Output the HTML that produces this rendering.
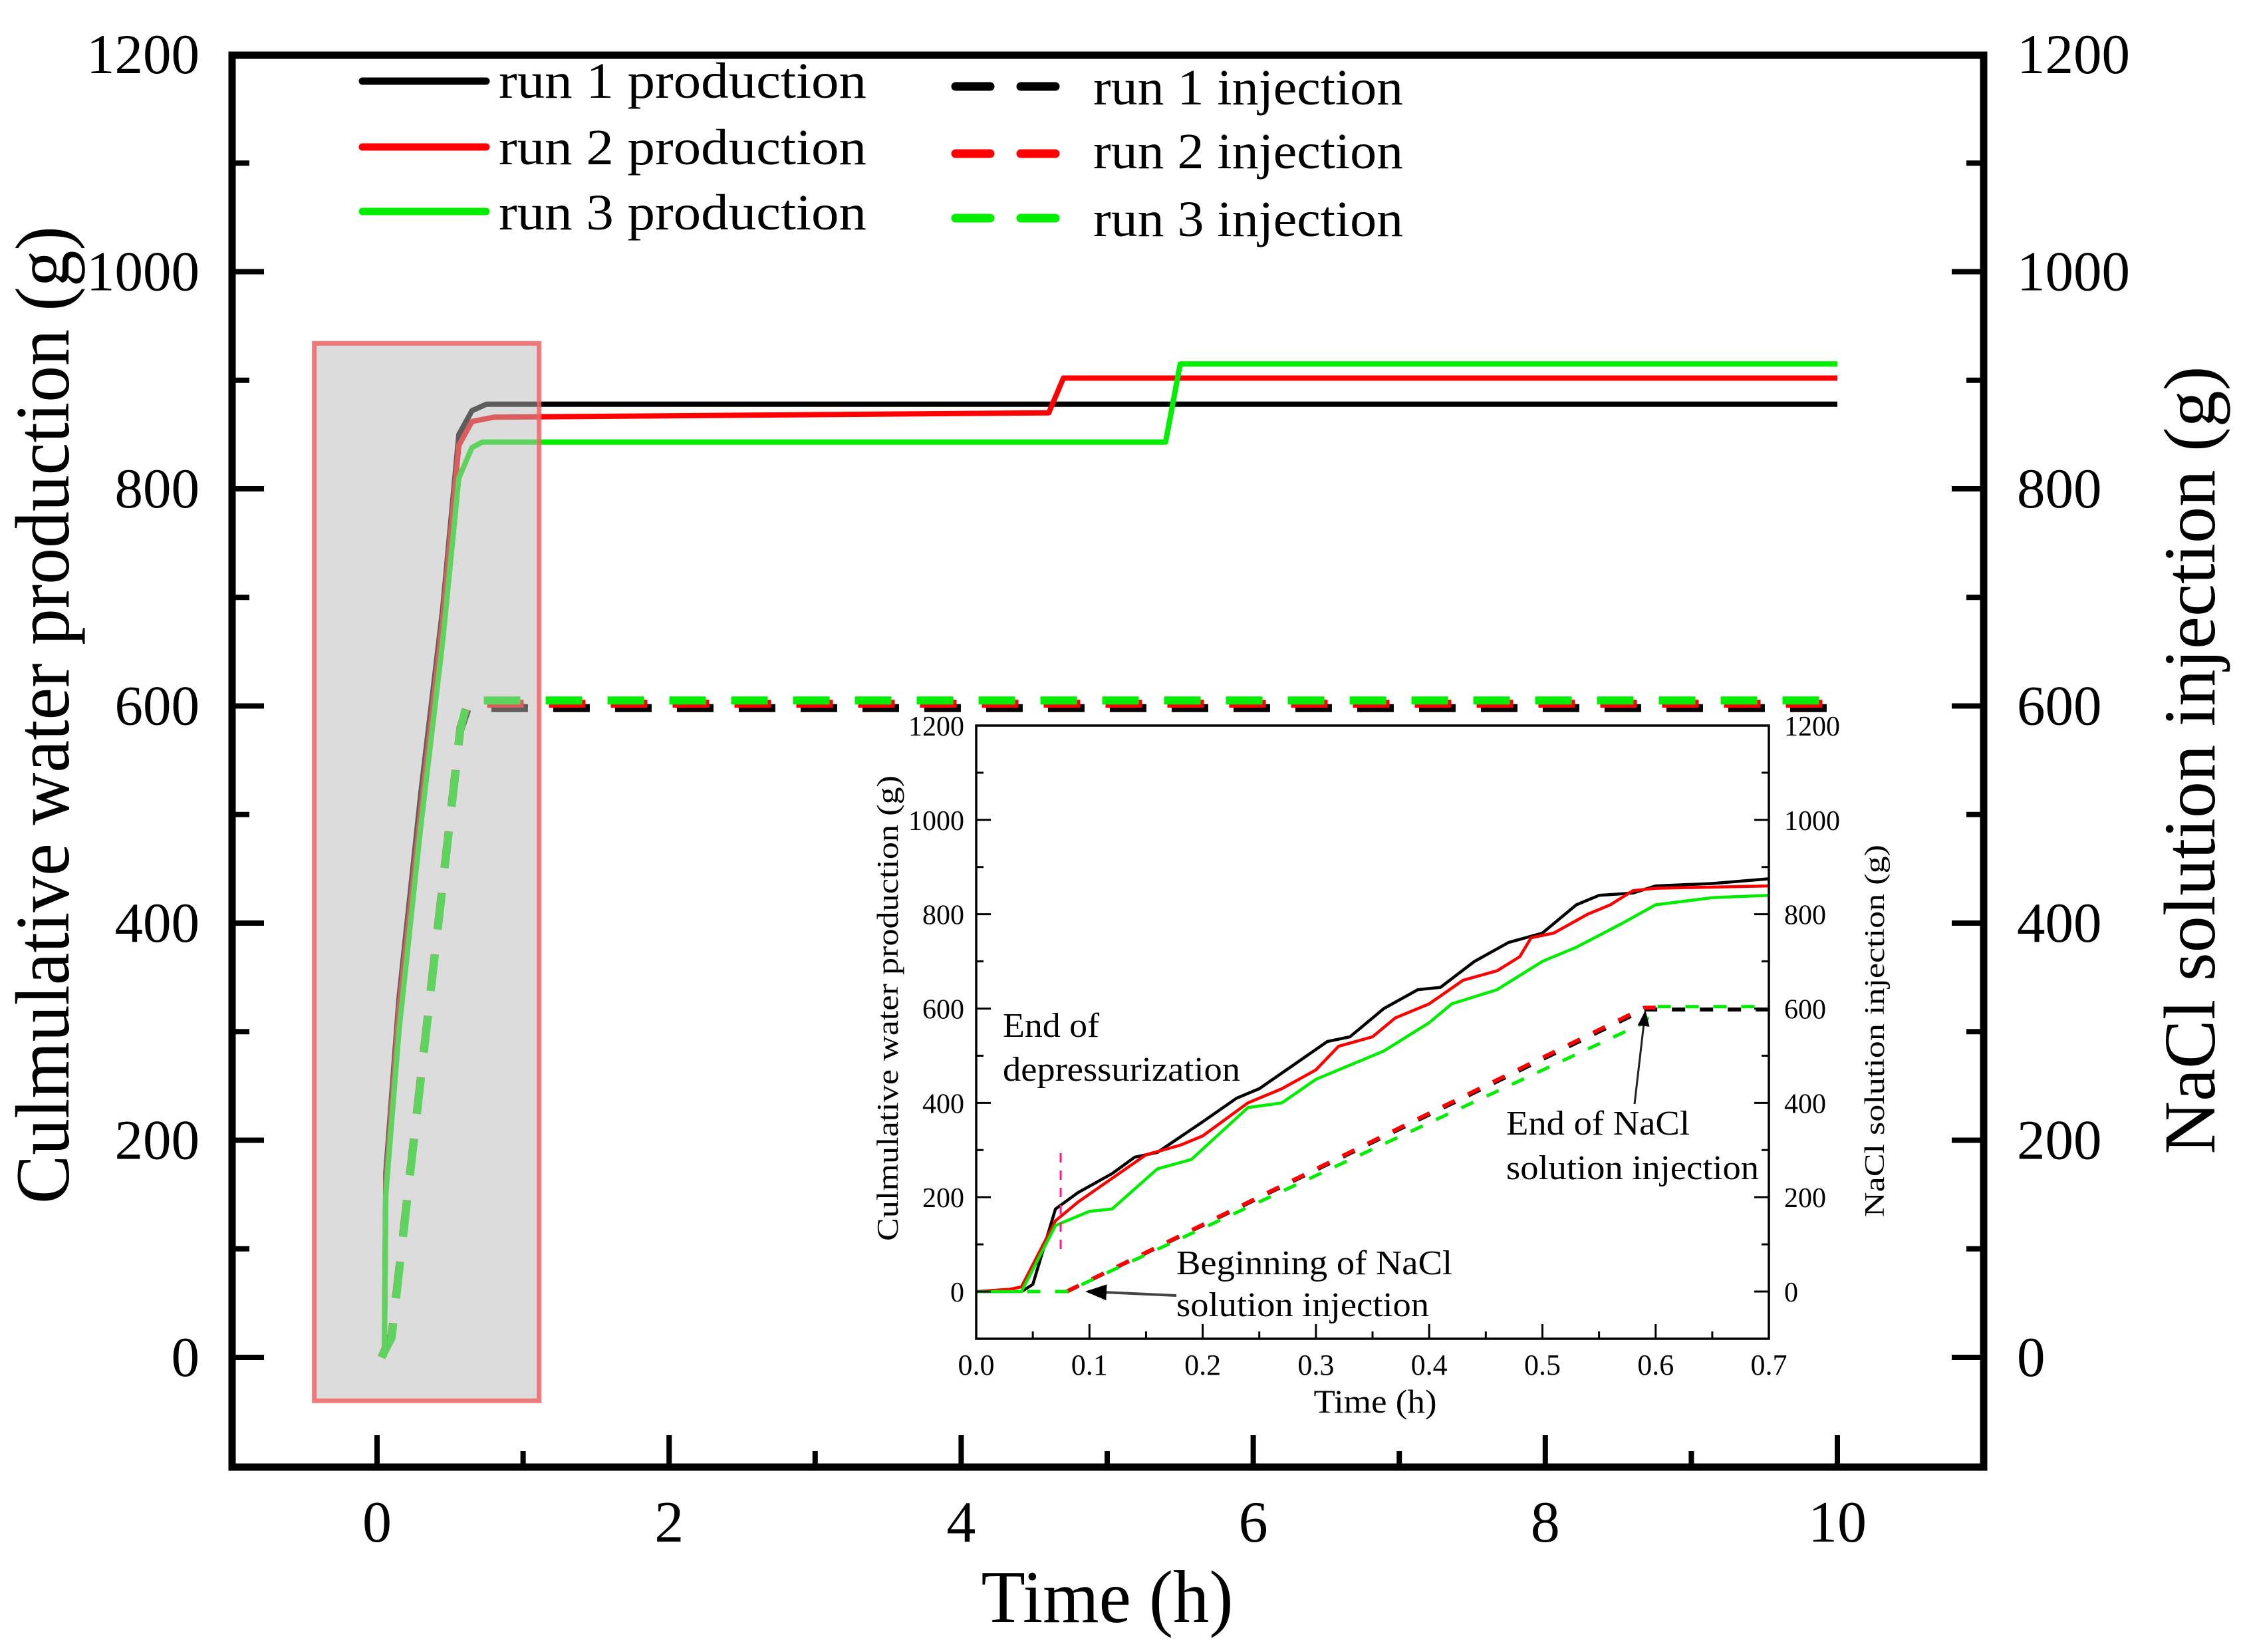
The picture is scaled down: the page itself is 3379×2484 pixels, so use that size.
<!DOCTYPE html>
<html><head><meta charset="utf-8"><style>
html,body{margin:0;padding:0;background:#fff;}
svg{display:block;}
text{font-family:"Liberation Serif",serif;fill:#000;}
</style></head><body>
<svg id="chart" width="3379" height="2484" viewBox="0 0 3379 2484" xmlns="http://www.w3.org/2000/svg">
<g id="main"></g>
<g id="inset"></g>
</svg>
<script>
// ---- main chart data ----
const mainXTicks = [0, 2, 4, 6, 8, 10];
const mainYTicks = [0, 200, 400, 600, 800, 1000, 1200];
const prod1 = [[0.05,0],[0.06,170],[0.15,330],[0.3,520],[0.45,690],[0.56,850],[0.65,872],[0.75,878],[10,878]];
const prod2 = [[0.05,0],[0.06,160],[0.15,320],[0.3,505],[0.45,680],[0.56,840],[0.65,862],[0.8,866],[4.6,870],[4.7,902],[10,902]];
const prod3 = [[0.05,0],[0.06,150],[0.15,300],[0.3,490],[0.45,660],[0.56,810],[0.65,838],[0.72,843],[5.4,843],[5.5,915],[10,915]];
const inj1 = [[0.03,0],[0.1,20],[0.57,578],[0.62,598],[10,598]];
const inj2 = [[0.03,0],[0.1,20],[0.57,580],[0.62,602],[10,602]];
const inj3 = [[0.03,0],[0.1,18],[0.57,578],[0.62,605],[10,605]];
// ---- inset data ----
const insetXTicks = [0,0.1,0.2,0.3,0.4,0.5,0.6,0.7];
const insetYTicks = [0,200,400,600,800,1000,1200];
const iprod1 = [[0,0],[0.04,0],[0.05,15],[0.07,175],[0.09,210],[0.12,250],[0.14,285],[0.16,295],[0.2,360],[0.23,410],[0.25,430],[0.28,480],[0.31,530],[0.33,540],[0.36,600],[0.39,640],[0.41,645],[0.44,700],[0.47,740],[0.5,760],[0.53,820],[0.55,840],[0.58,845],[0.6,860],[0.65,865],[0.7,875]];
const iprod2 = [[0,0],[0.03,5],[0.04,10],[0.07,150],[0.09,190],[0.12,240],[0.15,290],[0.18,310],[0.2,330],[0.24,400],[0.27,430],[0.3,470],[0.32,520],[0.35,540],[0.37,580],[0.4,610],[0.43,660],[0.46,680],[0.48,710],[0.49,750],[0.51,760],[0.54,800],[0.56,820],[0.58,850],[0.6,855],[0.7,860]];
const iprod3 = [[0,0],[0.04,0],[0.07,140],[0.1,170],[0.12,175],[0.16,260],[0.19,280],[0.24,390],[0.27,400],[0.3,450],[0.33,480],[0.36,510],[0.4,570],[0.42,610],[0.46,640],[0.5,700],[0.53,730],[0.57,780],[0.6,820],[0.65,835],[0.7,840]];
const iinj1 = [[0.08,0],[0.59,598],[0.7,598]];
const iinj2 = [[0.08,0],[0.59,602],[0.6,602]];
const iinj3 = [[0.045,0],[0.08,0],[0.59,590],[0.6,604],[0.7,604]];

const NS = "http://www.w3.org/2000/svg";
function mk(parent, tag, attrs, txt){
  const e = document.createElementNS(NS, tag);
  for (const k in attrs) e.setAttribute(k, attrs[k]);
  if (txt !== undefined) e.textContent = txt;
  parent.appendChild(e);
  return e;
}
// main scales
const mx = t => 567 + t*219.6;
const my = v => 2041 - v*1.6325;
// inset scales
const ix = t => 1468 + t*1702.9;
const iy = v => 1942 - v*0.7092;

const main = document.getElementById('main');
const inset = document.getElementById('inset');

function pts(arr, fx, fy){ return arr.map(p => fx(p[0]).toFixed(1)+','+fy(p[1]).toFixed(1)).join(' '); }

// main series
function mainLine(arr, color, dashed, name){
  const l = mk(main, 'polyline', {points: pts(arr, mx, my), fill:'none', stroke:color, 'stroke-width': dashed?12:8, 'stroke-linejoin':'round', 'stroke-dasharray': dashed?'55,38':'none'});
  
  
}
mainLine(inj1, '#000', true, 'run1-injection-line');
mainLine(inj2, '#ff0000', true, 'run2-injection-line');
mainLine(inj3, '#00ee00', true, 'run3-injection-line');
mainLine(prod1, '#000', false, 'run1-production-line');
mainLine(prod2, '#ff0000', false, 'run2-production-line');
mainLine(prod3, '#00ee00', false, 'run3-production-line');

// highlight box (semi-transparent overlay)
const hb = mk(main, 'rect', {x: mx(-0.43), y: my(934), width: mx(1.11)-mx(-0.43), height: my(-40)-my(934), fill:'rgba(185,185,185,0.5)', stroke:'rgba(240,100,100,0.85)', 'stroke-width':7});



// main frame
const fr = mk(main, 'rect', {x:349, y:83, width:2634, height:2123, fill:'none', stroke:'#000', 'stroke-width':11});



// main y ticks
for (let v = -100; v <= 1200; v += 100) {
  const major = v % 200 === 0;
  const len = major ? 48 : 26;
  const y = my(v);
  if (v === -100 || v === 1200) continue;
  const t1 = mk(main, 'line', {x1:349, x2:349+len, y1:y, y2:y, stroke:'#000', 'stroke-width':8});
  
  
  const t2 = mk(main, 'line', {x1:2983, x2:2983-len, y1:y, y2:y, stroke:'#000', 'stroke-width':8});
  
  
}
mainYTicks.forEach(v => {
  const a = mk(main, 'text', {x:300, y:my(v)+28, 'text-anchor':'end', 'font-size':85}, String(v));
  
  
  const b = mk(main, 'text', {x:3033, y:my(v)+28, 'text-anchor':'start', 'font-size':85}, String(v));
  
  
});
// main x ticks
for (let t = 0; t <= 10; t += 1) {
  const major = t % 2 === 0;
  const x = mx(t);
  const tk = mk(main, 'line', {x1:x, x2:x, y1:2206, y2:2206-(major?48:24), stroke:'#000', 'stroke-width':8});
  
  
}
mainXTicks.forEach(t => {
  const l = mk(main, 'text', {x:mx(t), y:2318, 'text-anchor':'middle', 'font-size':88}, String(t));
  
  
});
// axis titles
let at = mk(main, 'text', {x:1665, y:2439, 'text-anchor':'middle', 'font-size':112, textLength:379, lengthAdjust:'spacingAndGlyphs'}, 'Time (h)');


at = mk(main, 'text', {x:0, y:0, 'text-anchor':'middle', 'font-size':116, textLength:1470, lengthAdjust:'spacingAndGlyphs', transform:'translate(103,1075) rotate(-90)'}, 'Culmulative water production (g)');


at = mk(main, 'text', {x:0, y:0, 'text-anchor':'middle', 'font-size':110, textLength:1185, lengthAdjust:'spacingAndGlyphs', transform:'translate(3330,1143) rotate(-90)'}, 'NaCl solution injection (g)');



// legend
const legProd = [['#000','run 1  production',122,147],['#ff0000','run 2  production',221,247],['#00ee00','run 3  production',318,345]];
legProd.forEach((r,i) => {
  const ln = mk(main, 'line', {x1:545, x2:731, y1:r[2], y2:r[2], stroke:r[0], 'stroke-width':11, 'stroke-linecap':'round'});
  
  
  const tx = mk(main, 'text', {x:750, y:r[3], 'font-size':76, textLength:553, lengthAdjust:'spacingAndGlyphs'}, r[1]);
  
  
});
const legInj = [['#000','run 1 injection',130,157],['#ff0000','run 2 injection',231,253],['#00ee00','run 3 injection',328,355]];
legInj.forEach(r => {
  const ln = mk(main, 'line', {x1:1437, x2:1590, y1:r[2], y2:r[2], stroke:r[0], 'stroke-width':13, 'stroke-dasharray':'52,46', 'stroke-linecap':'round'});
  
  
  const tx = mk(main, 'text', {x:1644, y:r[3], 'font-size':76, textLength:466, lengthAdjust:'spacingAndGlyphs'}, r[1]);
  
  
});

// ---- inset ----
const ibg = mk(inset, 'rect', {x:1468, y:1091, width:1192, height:922, fill:'#fff', stroke:'none'});


function insetLine(arr, color, dashed, name, w){
  const l = mk(inset, 'polyline', {points: pts(arr, ix, iy), fill:'none', stroke:color, 'stroke-width': w, 'stroke-linejoin':'round', 'stroke-dasharray': dashed?'20,22':'none'});
  
  
}
insetLine(iinj1, '#000', true, 'inset-run1-injection', 6);
insetLine(iinj2, '#ff0000', true, 'inset-run2-injection', 6);
insetLine(iinj3.map(p=>[p[0], p[1]>0&&p[1]<600 ? p[1]-20 : p[1]]), '#00ee00', true, 'inset-run3-injection', 5);
insetLine(iprod1, '#000', false, 'inset-run1-production', 4.5);
insetLine(iprod2, '#ff0000', false, 'inset-run2-production', 4.5);
insetLine(iprod3, '#00ee00', false, 'inset-run3-production', 4.5);
const mg = mk(inset, 'line', {x1:ix(0.0746), x2:ix(0.0746), y1:1734, y2:1888, stroke:'#ff1493', 'stroke-width':3, 'stroke-dasharray':'14,12'});


const ifr = mk(inset, 'rect', {x:1468, y:1091, width:1192, height:922, fill:'none', stroke:'#000', 'stroke-width':3.5});


for (let v = 0; v <= 1100; v += 100) {
  const len = v % 200 === 0 ? 22 : 11;
  const a = mk(inset, 'line', {x1:1468, x2:1468+len, y1:iy(v), y2:iy(v), stroke:'#000', 'stroke-width':3});
  
  
  const b = mk(inset, 'line', {x1:2660, x2:2660-len, y1:iy(v), y2:iy(v), stroke:'#000', 'stroke-width':3});
  
  
}
for (let k = 1; k < 14; k++) {
  const t = k*0.05;
  const len = k % 2 === 0 ? 22 : 11;
  const a = mk(inset, 'line', {x1:ix(t), x2:ix(t), y1:2013, y2:2013-len, stroke:'#000', 'stroke-width':3});
  
  
}
insetYTicks.forEach(v => {
  const a = mk(inset, 'text', {x:1450, y:iy(v)+15, 'text-anchor':'end', 'font-size':42}, String(v));
  
  
  const b = mk(inset, 'text', {x:2683, y:iy(v)+15, 'text-anchor':'start', 'font-size':42}, String(v));
  
  
});
insetXTicks.forEach(t => {
  const a = mk(inset, 'text', {x:ix(t), y:2067, 'text-anchor':'middle', 'font-size':44}, t.toFixed(1));
  
  
});
let it = mk(inset, 'text', {x:2068, y:2124, 'text-anchor':'middle', 'font-size':50, textLength:185, lengthAdjust:'spacingAndGlyphs'}, 'Time (h)');


it = mk(inset, 'text', {x:0, y:0, 'text-anchor':'middle', 'font-size':46, textLength:700, lengthAdjust:'spacingAndGlyphs', transform:'translate(1350,1516) rotate(-90)'}, 'Culmulative water production (g)');


it = mk(inset, 'text', {x:0, y:0, 'text-anchor':'middle', 'font-size':42, textLength:560, lengthAdjust:'spacingAndGlyphs', transform:'translate(2833,1550) rotate(-90)'}, 'NaCl solution injection (g)');



// annotations
const ann = [[1508,1559,'End of',145],[1508,1625,'depressurization',357],[2265,1706,'End of NaCl',276],[2265,1773,'solution injection',380],[1769,1916,'Beginning of NaCl',415],[1769,1979,'solution injection',380]];
ann.forEach(a => {
  const e = mk(inset, 'text', {x:a[0], y:a[1], 'font-size':52, textLength:a[3], lengthAdjust:'spacingAndGlyphs'}, a[2]);
  
  
});
const defs = mk(document.getElementById('chart'), 'defs', {});
const mkr = mk(defs, 'marker', {id:'arr', markerWidth:8, markerHeight:8, refX:7, refY:4, orient:'auto', markerUnits:'strokeWidth'});
mk(mkr, 'path', {d:'M0,1 L8,4 L0,7 Z', fill:'#000'});
let ar = mk(inset, 'line', {x1:2458, y1:1660, x2:2474, y2:1522, stroke:'#222', 'stroke-width':3, 'marker-end':'url(#arr)'});


ar = mk(inset, 'line', {x1:1769, y1:1948, x2:1636, y2:1942, stroke:'#444', 'stroke-width':4, 'marker-end':'url(#arr)'});


</script>
</body></html>
